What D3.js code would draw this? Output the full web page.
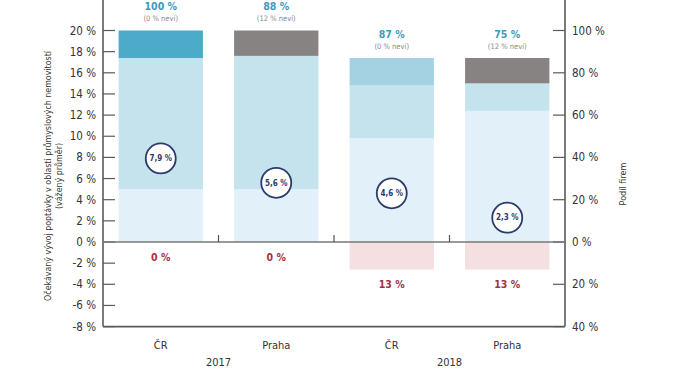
<!DOCTYPE html>
<html>
<head>
<meta charset="utf-8">
<script src="https://cdn.jsdelivr.net/npm/d3@7"></script>
<style>
  body { margin:0; background:#fff; }
  text { font-family: "Liberation Sans Narrow", "DejaVu Sans Condensed", sans-serif; }
</style>
</head>
<body>
<div class="container"></div>
<script>
// data
var categories = ["ČR", "Praha", "ČR", "Praha"];
var years = ["2017", "2018"];
var veryLight = [25, 25, 49, 62];   // share of firms, %
var light     = [62, 63, 25, 13];
var mid       = [0, 0, 13, 0];
var dark      = [13, 0, 0, 0];
var dontKnow  = [0, 12, 0, 12];
var decline   = [0, 0, 13, 13];
var average   = [7.9, 5.6, 4.6, 2.3]; // weighted average, left axis
var leftTicks  = [20, 18, 16, 14, 12, 10, 8, 6, 4, 2, 0, -2, -4, -6, -8];
var rightTicks = [100, 80, 60, 40, 20, 0, -20, -40];

var width = 674, height = 380;
var plot = {left: 103, right: 565, zero: 242, top20: 30.5, bottom: 326.6};

var colors = {veryLight: "#e2f1f9", light: "#c5e3ed", mid: "#a4d2e3", dark: "#4babc8", dontKnow: "#878383", decline: "#f4dfe1"};

var svg = d3.select(".container").append("svg").attr("width", width).attr("height", height);

var keys = categories.map(function(d, i){ return i; });
var x = d3.scaleBand()
        .domain(keys)
        .range([plot.left, plot.right])
        .paddingInner(0.27)
        .paddingOuter(0.135);

var yLeft = d3.scaleLinear().domain([-8, 20]).range([plot.bottom, plot.top20]);
var yRight = d3.scaleLinear().domain([-40, 100]).range([plot.bottom, plot.top20]);

// stacked positive segments (share of firms)
var rows = keys.map(function(i){
    return {veryLight: veryLight[i], light: light[i], mid: mid[i], dark: dark[i], dontKnow: dontKnow[i]};
});
var stack = d3.stack().keys(["veryLight", "light", "mid", "dark", "dontKnow"]);
var series = stack(rows);

var bars = svg.append("g");
series.forEach(function(s){
    bars.selectAll("rect." + s.key)
        .data(s)
        .enter().append("rect")
        .attr("class", s.key)
        .attr("x", function(d, i){ return x(i); })
        .attr("width", x.bandwidth())
        .attr("y", function(d){ return yRight(d[1]); })
        .attr("height", function(d){ return yRight(d[0]) - yRight(d[1]); })
        .attr("fill", colors[s.key]);
});

// decline below zero
bars.selectAll("rect.decline")
    .data(decline)
    .enter().append("rect")
    .attr("class", "decline")
    .attr("x", function(d, i){ return x(i); })
    .attr("width", x.bandwidth())
    .attr("y", yRight(0))
    .attr("height", function(d){ return yRight(-d) - yRight(0); })
    .attr("fill", colors.decline);

// axes
var axisColor = "#5a5a5a";
var lblColor = "#333";
var gL = svg.append("g").attr("transform", "translate(" + plot.left + ",0)");
gL.append("line").attr("y1", 0).attr("y2", plot.bottom).attr("stroke", axisColor).attr("stroke-width", 1.6);
gL.selectAll("line.t").data(leftTicks).enter().append("line")
    .attr("class", "t").attr("x1", 0).attr("x2", 12)
    .attr("y1", function(d){ return yLeft(d); }).attr("y2", function(d){ return yLeft(d); })
    .attr("stroke", axisColor).attr("stroke-width", 1.2);
gL.selectAll("text").data(leftTicks).enter().append("text")
    .attr("x", -7).attr("y", function(d){ return yLeft(d); }).attr("dy", "0.35em")
    .attr("text-anchor", "end").attr("font-size", 11.5).attr("fill", lblColor)
    .text(function(d){ return d + " %"; });

var gR = svg.append("g").attr("transform", "translate(" + plot.right + ",0)");
gR.append("line").attr("y1", 0).attr("y2", plot.bottom).attr("stroke", axisColor).attr("stroke-width", 1.6);
gR.selectAll("line.t").data(rightTicks).enter().append("line")
    .attr("class", "t").attr("x1", -12).attr("x2", 0)
    .attr("y1", function(d){ return yRight(d); }).attr("y2", function(d){ return yRight(d); })
    .attr("stroke", axisColor).attr("stroke-width", 1.2);
gR.selectAll("text").data(rightTicks).enter().append("text")
    .attr("x", 7).attr("y", function(d){ return yRight(d); }).attr("dy", "0.35em")
    .attr("font-size", 11.5).attr("fill", lblColor)
    .text(function(d){ return Math.abs(d) + " %"; });

// zero line + bottom line
svg.append("line").attr("x1", plot.left).attr("x2", plot.right)
    .attr("y1", yLeft(0)).attr("y2", yLeft(0)).attr("stroke", "#777").attr("stroke-width", 1.6);
svg.append("line").attr("x1", plot.left).attr("x2", plot.right)
    .attr("y1", plot.bottom).attr("y2", plot.bottom).attr("stroke", axisColor).attr("stroke-width", 1.6);

// group ticks between bars on the zero line
var step = x.step();
svg.selectAll("line.sep").data(keys.slice(1)).enter().append("line")
    .attr("class", "sep")
    .attr("x1", function(d){ return x(d) - step * x.paddingInner() / 2; })
    .attr("x2", function(d){ return x(d) - step * x.paddingInner() / 2; })
    .attr("y1", yLeft(0)).attr("y2", yLeft(0) - 7)
    .attr("stroke", "#555").attr("stroke-width", 1.2);

// labels above bars
var posTotal = keys.map(function(i){ return veryLight[i] + light[i] + mid[i] + dark[i]; });
var barTop = keys.map(function(i){ return posTotal[i] + dontKnow[i]; });
svg.selectAll("text.tot").data(keys).enter().append("text")
    .attr("class", "tot")
    .attr("x", function(i){ return x(i) + x.bandwidth() / 2; })
    .attr("y", function(i){ return yRight(barTop[i]) - 24; }).attr("dy", "0.35em")
    .attr("text-anchor", "middle").attr("font-size", 10.5).attr("font-weight", "bold")
    .attr("fill", "#3d9bc0")
    .text(function(i){ return posTotal[i] + " %"; });
svg.selectAll("text.nevi").data(keys).enter().append("text")
    .attr("class", "nevi")
    .attr("x", function(i){ return x(i) + x.bandwidth() / 2; })
    .attr("y", function(i){ return yRight(barTop[i]) - 12; }).attr("dy", "0.35em")
    .attr("text-anchor", "middle").attr("font-size", 7.5).attr("fill", "#8a8a8a")
    .text(function(i){ return "(" + dontKnow[i] + " % neví)"; });

// decline labels
svg.selectAll("text.dec").data(keys).enter().append("text")
    .attr("class", "dec")
    .attr("x", function(i){ return x(i) + x.bandwidth() / 2; })
    .attr("y", function(i){ return yRight(-decline[i]) + 15; }).attr("dy", "0.35em")
    .attr("text-anchor", "middle").attr("font-size", 10.5).attr("font-weight", "bold")
    .attr("fill", "#a2323f")
    .text(function(i){ return decline[i] + " %"; });

// weighted average circles
var avg = svg.selectAll("g.avg").data(keys).enter().append("g")
    .attr("transform", function(i){ return "translate(" + (x(i) + x.bandwidth() / 2) + "," + yLeft(average[i]) + ")"; });
avg.append("circle").attr("r", 15).attr("fill", "#fff").attr("stroke", "#2c3b6c").attr("stroke-width", 1.8);
avg.append("text").attr("dy", "0.35em").attr("text-anchor", "middle")
    .attr("font-size", 8).attr("font-weight", "bold").attr("fill", "#2c3b6c")
    .text(function(i){ return String(average[i]).replace(".", ",") + " %"; });

// category + year labels
svg.selectAll("text.cat").data(keys).enter().append("text")
    .attr("class", "cat")
    .attr("x", function(i){ return x(i) + x.bandwidth() / 2; })
    .attr("y", 345).attr("dy", "0.35em")
    .attr("text-anchor", "middle").attr("font-size", 11).attr("fill", lblColor)
    .text(function(i){ return categories[i]; });
svg.selectAll("text.year").data(years).enter().append("text")
    .attr("class", "year")
    .attr("x", function(d, j){ return x(j * 2 + 1) - step * x.paddingInner() / 2; })
    .attr("y", 362).attr("dy", "0.35em")
    .attr("text-anchor", "middle").attr("font-size", 11).attr("fill", lblColor)
    .text(function(d){ return d; });

// axis titles
svg.append("text")
    .attr("transform", "translate(48,176) rotate(-90)")
    .attr("text-anchor", "middle").attr("dy", "0.35em")
    .attr("font-size", 8.8).attr("fill", lblColor)
    .text("Očekávaný vývoj poptávky v oblasti průmyslových nemovitostí");
svg.append("text")
    .attr("transform", "translate(59,176) rotate(-90)")
    .attr("text-anchor", "middle").attr("dy", "0.35em")
    .attr("font-size", 8.8).attr("fill", lblColor)
    .text("(vážený průměr)");
svg.append("text")
    .attr("transform", "translate(623,184) rotate(-90)")
    .attr("text-anchor", "middle").attr("dy", "0.35em")
    .attr("font-size", 9).attr("fill", lblColor)
    .text("Podíl firem");
</script>
</body>
</html>
